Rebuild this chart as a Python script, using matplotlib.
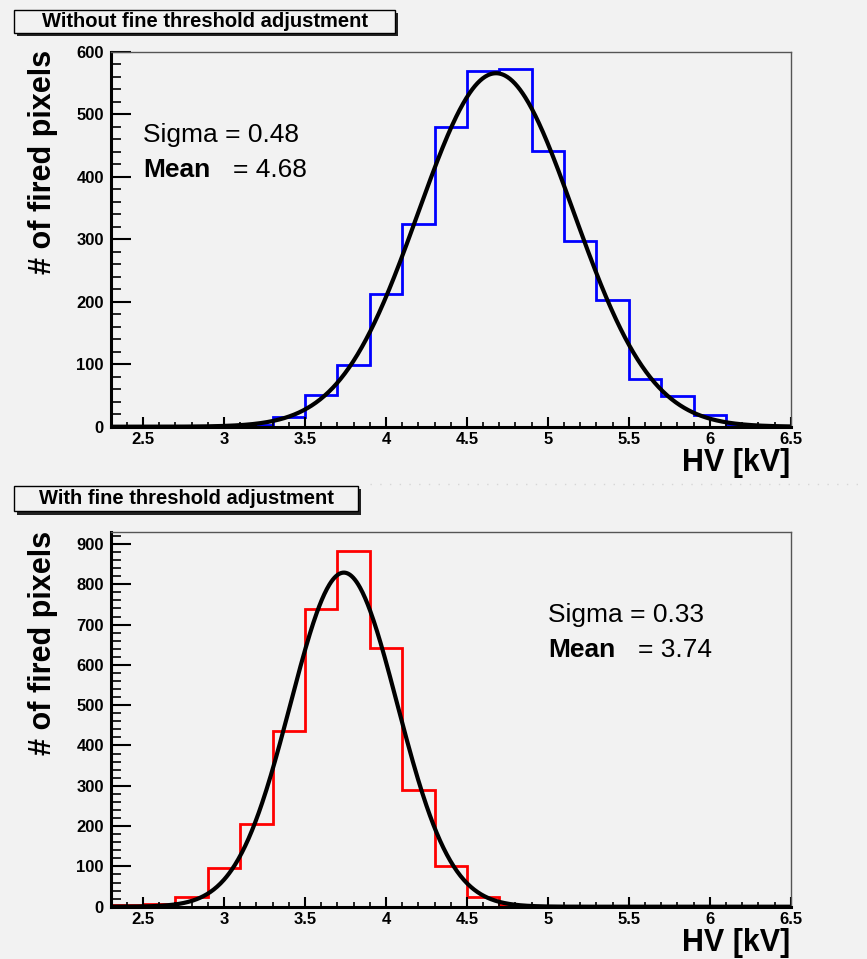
import numpy as np
import matplotlib
matplotlib.use("Agg")
import matplotlib.pyplot as plt
from matplotlib.patches import Rectangle
from matplotlib.lines import Line2D
from matplotlib.ticker import MultipleLocator

plt.rcParams["font.family"] = ["Liberation Sans", "DejaVu Sans"]

W, H = 867, 959
BG = "#f2f2f2"

# 0.2 kV bins from 2.3 to 6.5 kV
bin_edges = np.round(np.arange(2.3, 6.5001, 0.2), 2)

counts_without = [0, 0, 0, 0, 2, 15, 51, 98, 213, 324, 480, 569, 572, 442,
                  298, 203, 76, 49, 18, 2, 0]
counts_with = [5, 6, 25, 95, 204, 437, 738, 883, 642, 290, 101, 23, 3, 1,
               0, 0, 0, 0, 0, 0, 0]

# gaussian fit results
fit_without = {"amp": 566, "mean": 4.68, "sigma": 0.48}
fit_with = {"amp": 829, "mean": 3.74, "sigma": 0.33}

titles = ["Without fine threshold adjustment", "With fine threshold adjustment"]
x_ticks = [2.5, 3, 3.5, 4, 4.5, 5, 5.5, 6, 6.5]
x_tick_labels = ["2.5", "3", "3.5", "4", "4.5", "5", "5.5", "6", "6.5"]


def px_box(x0, y0, x1, y1):
    """pixel box (top-left origin) -> figure fraction rect"""
    return x0 / W, 1 - y1 / H, (x1 - x0) / W, (y1 - y0) / H


def title_box(fig, text, x0, y0, x1, y1):
    sx, sy, sw, sh = px_box(x0 + 3, y0 + 3, x1 + 3, y1 + 3)
    fig.patches.append(Rectangle((sx, sy), sw, sh, transform=fig.transFigure,
                                 facecolor="#222222", edgecolor="none"))
    bx, by, bw, bh = px_box(x0, y0, x1, y1)
    fig.patches.append(Rectangle((bx, by), bw, bh, transform=fig.transFigure,
                                 facecolor=BG, edgecolor="black", linewidth=1.0))
    fig.text(bx + bw / 2, by + bh / 2, text, ha="center", va="center",
             fontsize=14.5, fontweight="bold")


def draw_panel(ax, counts, color, fit, ymax, stats_x):
    ax.set_facecolor(BG)
    ax.stairs(counts, bin_edges, color=color, linewidth=2.0)

    xs = np.linspace(bin_edges[0], bin_edges[-1], 800)
    ys = fit["amp"] * np.exp(-0.5 * ((xs - fit["mean"]) / fit["sigma"]) ** 2)
    ax.plot(xs, ys, color="black", linewidth=3.0, solid_capstyle="round")

    ax.set_xlim(bin_edges[0], bin_edges[-1])
    ax.set_ylim(0, ymax)

    ax.set_xticks(x_ticks)
    ax.set_xticklabels(x_tick_labels)
    ax.xaxis.set_minor_locator(MultipleLocator(0.1))
    ax.yaxis.set_major_locator(MultipleLocator(100))
    ax.yaxis.set_minor_locator(MultipleLocator(20))

    ax.tick_params(axis="x", which="major", direction="in", length=7.5,
                   width=1.5, pad=4, labelsize=12)
    ax.tick_params(axis="x", which="minor", direction="in", length=3.8, width=1.2)
    ax.tick_params(axis="y", which="major", direction="in", length=14.5,
                   width=1.5, pad=5, labelsize=12)
    ax.tick_params(axis="y", which="minor", direction="in", length=7.2, width=1.2)
    for lab in ax.get_xticklabels() + ax.get_yticklabels():
        lab.set_fontweight("bold")

    for side in ("left", "bottom"):
        ax.spines[side].set_linewidth(2.2)
        ax.spines[side].set_color("black")
    for side in ("top", "right"):
        ax.spines[side].set_linewidth(1.0)
        ax.spines[side].set_color("#555555")

    ax.set_ylabel("# of fired pixels", loc="top", fontsize=22, fontweight="bold")
    ax.yaxis.set_label_coords(-0.077, 1.005)
    ax.set_xlabel("HV [kV]", loc="right", fontsize=22, fontweight="bold")
    ax.xaxis.set_label_coords(1.0, -0.058)

    ax.text(stats_x, 0.761, f"Sigma = {fit['sigma']:.2f}", transform=ax.transAxes,
            fontsize=19)
    ax.text(stats_x, 0.667, "Mean", transform=ax.transAxes, fontsize=19,
            fontweight="bold")
    ax.text(stats_x + 0.132, 0.667, f"= {fit['mean']:.2f}", transform=ax.transAxes,
            fontsize=19)


fig = plt.figure(figsize=(W / 100, H / 100), dpi=100, facecolor=BG)

ax_top = fig.add_axes([110.7 / W, 1 - 426.7 / H, 680 / W, 374.7 / H])
ax_bot = fig.add_axes([110.7 / W, 1 - 906.7 / H, 680 / W, 374.4 / H])

draw_panel(ax_top, counts_without, "#0000ff", fit_without, 600, 0.048)
draw_panel(ax_bot, counts_with, "#ff0000", fit_with, 929, 0.643)

title_box(fig, titles[0], 14, 10, 395, 32.5)
title_box(fig, titles[1], 14, 486, 358, 511.5)

# faint dotted separator between the two pads
fig.lines.append(Line2D([370 / W, 860 / W], [1 - 484 / H, 1 - 484 / H],
                        transform=fig.transFigure, color="#d6d6d6",
                        linestyle=(0, (1, 6)), linewidth=1.0))

fig.savefig("out.png", dpi=100, facecolor=BG)
